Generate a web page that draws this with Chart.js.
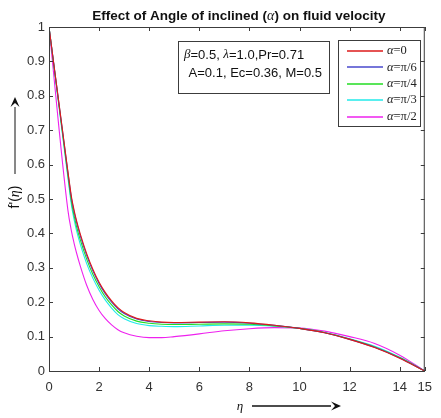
<!DOCTYPE html>
<html>
<head>
<meta charset="utf-8">
<script src="https://cdn.jsdelivr.net/npm/chart.js@4.4.0/dist/chart.umd.min.js"></script>
<style>
  body { margin: 0; background: #fff; }
  canvas { display: block; }
</style>
</head>
<body>
<canvas id="velocity" width="441" height="418"></canvas>
<script>
// eta grid and f'(eta) values (solver mesh is coarse near eta=0)
const eta = [0, 0.75, 0.9, 1, 1.1, 1.25, 1.5, 1.75, 2, 2.25, 2.5, 2.75, 3, 3.5, 4, 4.5, 5, 6, 7, 8, 9, 10, 11, 12, 13, 14, 15];
const alpha0 = [1, 0.583, 0.505, 0.468, 0.437, 0.398, 0.342, 0.296, 0.258, 0.228, 0.204, 0.184, 0.17, 0.153, 0.146, 0.142, 0.141, 0.142, 0.143, 0.14, 0.133, 0.124, 0.111, 0.092, 0.068, 0.037, 0];
const alphaPi6 = [1, 0.58, 0.5, 0.463, 0.432, 0.393, 0.337, 0.291, 0.254, 0.224, 0.2, 0.181, 0.167, 0.151, 0.144, 0.141, 0.14, 0.141, 0.142, 0.139, 0.133, 0.124, 0.111, 0.092, 0.069, 0.038, 0];
const alphaPi4 = [1, 0.572, 0.49, 0.452, 0.42, 0.381, 0.326, 0.281, 0.245, 0.215, 0.192, 0.173, 0.16, 0.145, 0.139, 0.136, 0.135, 0.136, 0.137, 0.136, 0.131, 0.124, 0.112, 0.093, 0.07, 0.039, 0];
const alphaPi3 = [1, 0.565, 0.48, 0.441, 0.408, 0.368, 0.313, 0.27, 0.235, 0.206, 0.183, 0.164, 0.152, 0.138, 0.132, 0.13, 0.129, 0.131, 0.133, 0.133, 0.13, 0.124, 0.112, 0.094, 0.072, 0.04, 0];
const alphaPi2 = [1, 0.47, 0.405, 0.372, 0.343, 0.305, 0.25, 0.208, 0.176, 0.152, 0.134, 0.12, 0.111, 0.101, 0.097, 0.097, 0.1, 0.108, 0.117, 0.123, 0.126, 0.125, 0.116, 0.1, 0.08, 0.046, 0];

const seriesNames = ['=0', '=π/6', '=π/4', '=π/3', '=π/2'];
const seriesValues = [alpha0, alphaPi6, alphaPi4, alphaPi3, alphaPi2];
const seriesColors = ['#dd1a1a', '#4848cc', '#22dd22', '#22eaea', '#ee22ee'];
const xTicks = [0, 2, 4, 6, 8, 10, 12, 14, 15];

const SANS = '"Liberation Sans", Arial, sans-serif';
const SERIF = '"Liberation Serif", "Times New Roman", serif';
const AXIS_COLOR = '#3c3c3c';
const TEXT_COLOR = '#333333';

function arrow(ctx, x1, y1, x2, y2) {
    const ang = Math.atan2(y2 - y1, x2 - x1);
    const hl = 10, hw = 4.5;
    const c = Math.cos(ang), s = Math.sin(ang);
    ctx.beginPath();
    ctx.moveTo(x1, y1);
    ctx.lineTo(x2 - c * hl, y2 - s * hl);
    ctx.stroke();
    ctx.beginPath();
    ctx.moveTo(x2, y2);
    ctx.lineTo(x2 - c * hl - s * hw, y2 - s * hl + c * hw);
    ctx.lineTo(x2 - c * hl * 0.6, y2 - s * hl * 0.6);
    ctx.lineTo(x2 - c * hl + s * hw, y2 - s * hl - c * hw);
    ctx.closePath();
    ctx.fill();
}

// draw a run of [text, font] pieces left to right
function drawRuns(ctx, runs, x, y) {
    runs.forEach(([text, font]) => {
        ctx.font = font;
        ctx.fillText(text, x, y);
        x += ctx.measureText(text).width;
    });
}

function runsWidth(ctx, runs) {
    let w = 0;
    runs.forEach(([text, font]) => { ctx.font = font; w += ctx.measureText(text).width; });
    return w;
}

const matlabDecor = {
    id: 'matlabDecor',
    afterDraw(chart) {
        const ctx = chart.ctx;
        const a = chart.chartArea;
        const xs = chart.scales.x, ys = chart.scales.y;
        ctx.save();

        // axes box with inward ticks
        ctx.strokeStyle = AXIS_COLOR;
        ctx.lineWidth = 1;
        ctx.strokeRect(a.left + 0.5, a.top + 0.5, a.right - a.left - 1, a.bottom - a.top);
        ctx.beginPath();
        xs.ticks.forEach(t => {
            const px = Math.round(xs.getPixelForValue(t.value)) + 0.5;
            ctx.moveTo(px, a.bottom); ctx.lineTo(px, a.bottom - 4);
            ctx.moveTo(px, a.top); ctx.lineTo(px, a.top + 4);
        });
        ys.ticks.forEach(t => {
            const py = Math.round(ys.getPixelForValue(t.value)) + 0.5;
            ctx.moveTo(a.left, py); ctx.lineTo(a.left + 4, py);
            ctx.moveTo(a.right, py); ctx.lineTo(a.right - 4, py);
        });
        ctx.stroke();

        // title
        ctx.fillStyle = '#111';
        ctx.textBaseline = 'middle';
        ctx.textAlign = 'left';
        const tParts = [
            ['Effect of Angle of inclined (', 'bold 13.5px ' + SANS],
            ['α', 'italic 14px ' + SERIF],
            [') on fluid velocity', 'bold 13.5px ' + SANS],
        ];
        drawRuns(ctx, tParts, (a.left + a.right) / 2 - runsWidth(ctx, tParts) / 2 + 2, 16);

        // parameter box
        ctx.fillStyle = '#fff';
        ctx.fillRect(178.5, 41.5, 151, 52);
        ctx.strokeStyle = AXIS_COLOR;
        ctx.strokeRect(178.5, 41.5, 151, 52);
        ctx.fillStyle = '#111';
        drawRuns(ctx, [
            ['β', 'italic 13px ' + SERIF], ['=0.5, ', '13px ' + SANS],
            ['λ', 'italic 13px ' + SERIF], ['=1.0,Pr=0.71', '13px ' + SANS],
        ], 184, 55);
        drawRuns(ctx, [[' A=0.1, Ec=0.36, M=0.5', '13px ' + SANS]], 185, 73);

        // legend
        ctx.fillStyle = '#fff';
        ctx.fillRect(338.5, 40.5, 82, 86);
        ctx.strokeStyle = AXIS_COLOR;
        ctx.strokeRect(338.5, 40.5, 82, 86);
        chart.data.datasets.forEach((ds, i) => {
            const ly = 51 + i * 16.4;
            ctx.strokeStyle = ds.borderColor;
            ctx.lineWidth = 1.4;
            ctx.beginPath();
            ctx.moveTo(347, Math.round(ly));
            ctx.lineTo(383, Math.round(ly));
            ctx.stroke();
            ctx.fillStyle = '#222';
            drawRuns(ctx, [['α', 'italic 12.5px ' + SERIF], [ds.label, '12.5px ' + SERIF]], 387, ly);
        });

        // axis labels with arrows
        ctx.fillStyle = '#111';
        ctx.strokeStyle = '#111';
        ctx.lineWidth = 1.3;
        ctx.font = 'italic 13px ' + SERIF;
        ctx.textAlign = 'center';
        ctx.fillText('η', 240, 407);
        arrow(ctx, 252, 406, 341, 406);

        ctx.save();
        ctx.translate(15, 197);
        ctx.rotate(-Math.PI / 2);
        ctx.textAlign = 'left';
        const yParts = [["f'(", '14px ' + SANS], ['η', 'italic 14px ' + SERIF], [')', '14px ' + SANS]];
        drawRuns(ctx, yParts, -runsWidth(ctx, yParts) / 2, 0);
        ctx.restore();
        ctx.lineWidth = 1;
        arrow(ctx, 15, 174, 15, 97);

        ctx.restore();
    }
};

new Chart(document.getElementById('velocity'), {
    type: 'line',
    data: {
        datasets: seriesValues.map((vals, i) => ({
            label: seriesNames[i],
            data: eta.map((x, j) => ({ x: x, y: vals[j] })),
            borderColor: seriesColors[i],
            backgroundColor: seriesColors[i],
            borderWidth: 1.1,
            pointRadius: 0,
            cubicInterpolationMode: 'monotone',
            fill: false,
        })),
    },
    options: {
        responsive: false,
        animation: false,
        layout: { padding: { top: 27, right: 8, left: 0, bottom: 0 } },
        plugins: {
            legend: { display: false },
            title: { display: false },
            tooltip: { enabled: false },
        },
        scales: {
            x: {
                type: 'linear',
                min: 0,
                max: 15,
                grid: { display: false, drawTicks: false },
                border: { display: false },
                afterBuildTicks: scale => { scale.ticks = xTicks.map(v => ({ value: v })); },
                afterFit: scale => { scale.height = 47; },
                ticks: {
                    autoSkip: false,
                    maxRotation: 0,
                    padding: 9,
                    color: TEXT_COLOR,
                    font: { family: SANS, size: 13 },
                },
            },
            y: {
                min: 0,
                max: 1,
                grid: { display: false, drawTicks: false },
                border: { display: false },
                afterFit: scale => { scale.width = 49; },
                ticks: {
                    stepSize: 0.1,
                    padding: 4,
                    color: TEXT_COLOR,
                    font: { family: SANS, size: 13 },
                    callback: v => String(Number(v.toFixed(1))),
                },
            },
        },
    },
    plugins: [matlabDecor],
});
</script>
</body>
</html>
